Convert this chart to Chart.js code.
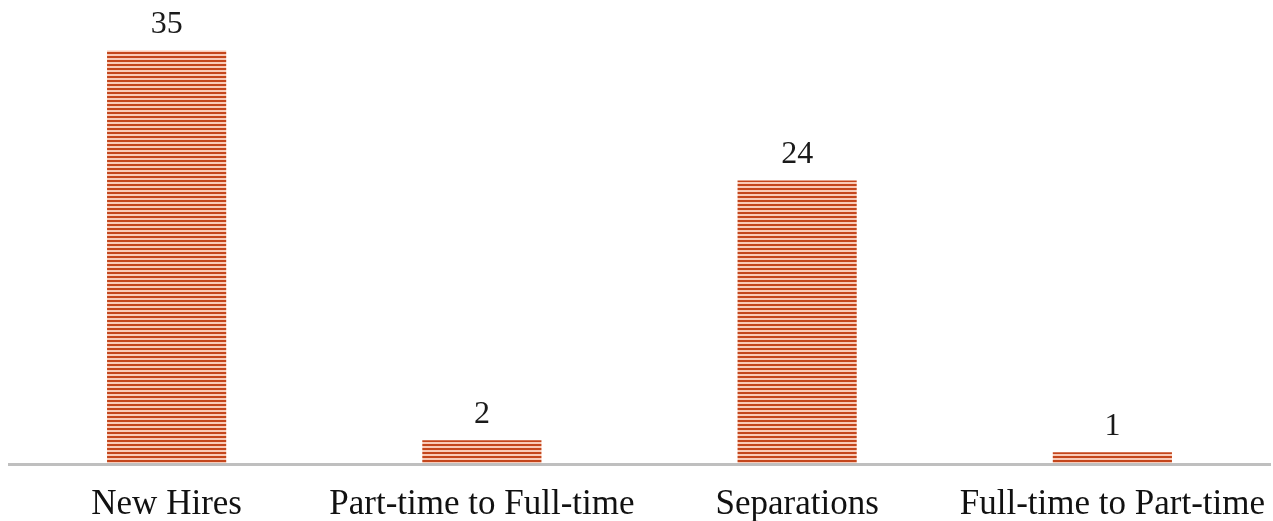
<!DOCTYPE html>
<html>
<head>
<meta charset="utf-8">
<script src="https://cdn.jsdelivr.net/npm/chart.js@4.4.1/dist/chart.umd.min.js"></script>
<style>
  html, body { margin: 0; padding: 0; background: #ffffff; }
  #wrap { width: 1273px; height: 521px; }
</style>
</head>
<body>
<div id="wrap"><canvas id="chart" width="1273" height="521"></canvas></div>
<script>
// Workforce movement counts
const categories = ['New Hires', 'Part-time to Full-time', 'Separations', 'Full-time to Part-time'];
const counts = [35, 2, 24, 1];

const stripeDark = '#C4461C';
const stripeLight = '#F9CBB8';
const serif = '"Liberation Serif", "Times New Roman", serif';

// Horizontal pinstripe fill for the bars
function makeStripes() {
  const c = document.createElement('canvas');
  c.width = 4; c.height = 4;
  const g = c.getContext('2d');
  g.fillStyle = stripeLight; g.fillRect(0, 0, 4, 4);
  g.fillStyle = stripeDark; g.fillRect(0, 0, 4, 2);
  return document.getElementById('chart').getContext('2d').createPattern(c, 'repeat');
}

// Count printed above each bar
const valueLabels = {
  id: 'valueLabels',
  afterDatasetsDraw(chart) {
    const ctx = chart.ctx;
    const meta = chart.getDatasetMeta(0);
    ctx.save();
    ctx.font = '32px ' + serif;
    ctx.fillStyle = '#1a1a1a';
    ctx.textAlign = 'center';
    ctx.textBaseline = 'alphabetic';
    meta.data.forEach((bar, i) => {
      ctx.fillText(String(chart.data.datasets[0].data[i]), bar.x, bar.y - 17);
    });
    ctx.restore();
  }
};

new Chart(document.getElementById('chart'), {
  type: 'bar',
  data: {
    labels: categories,
    datasets: [{
      data: counts,
      backgroundColor: makeStripes(),
      borderWidth: 0,
      barPercentage: 0.378,
      categoryPercentage: 1
    }]
  },
  options: {
    responsive: false,
    animation: false,
    devicePixelRatio: 1,
    layout: { padding: { left: 9, right: 3, top: 15, bottom: 0 } },
    plugins: { legend: { display: false }, tooltip: { enabled: false } },
    scales: {
      x: {
        afterFit(scale) {
          scale.height = 57;
          scale.paddingLeft = 0;
          scale.paddingRight = 0;
        },
        grid: { display: false, drawTicks: false },
        border: { display: true, color: '#BFBFBF', width: 3, z: 1 },
        ticks: { color: '#111111', font: { family: serif, size: 35 }, padding: 20, maxRotation: 0 }
      },
      y: {
        display: false,
        min: 0,
        max: 38
      }
    }
  },
  plugins: [valueLabels]
});
</script>
</body>
</html>
